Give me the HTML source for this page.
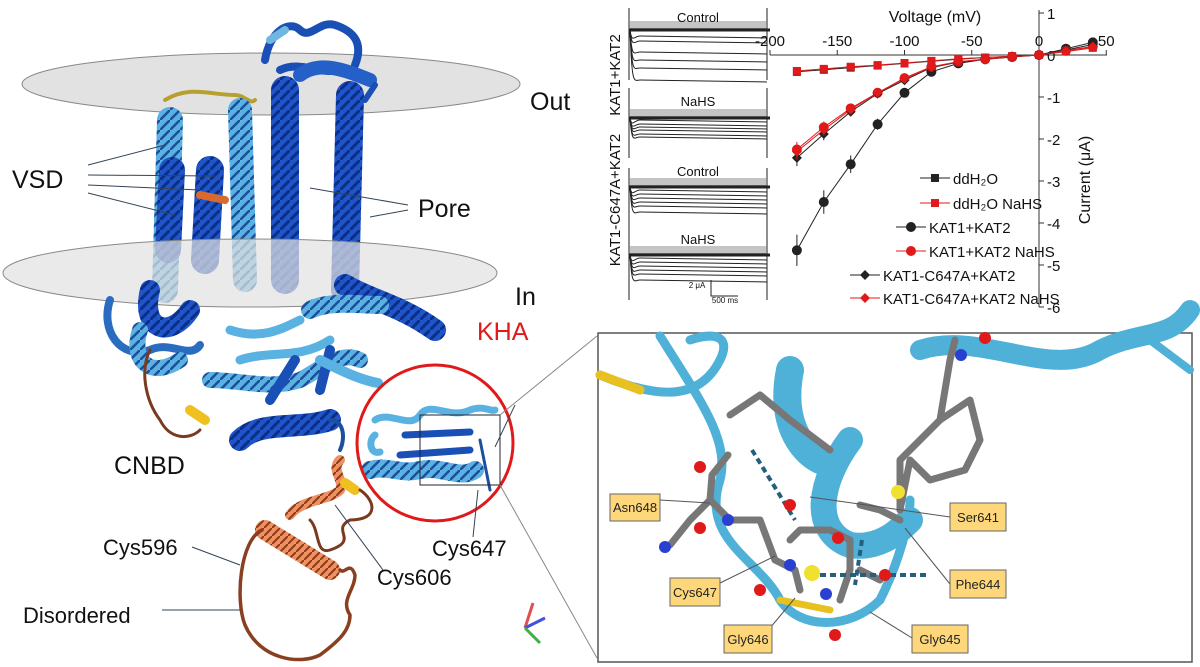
<!DOCTYPE html><html><head><style>body{margin:0;background:#fff}svg{display:block;font-family:"Liberation Sans",sans-serif}</style></head><body>
<svg id="s" width="1200" height="667" viewBox="0 0 1200 667">
<defs>
<pattern id="hx" width="10" height="10" patternUnits="userSpaceOnUse"><rect width="10" height="10" fill="#1f55c8"/><path d="M0 10 L10 0" stroke="#0b2f86" stroke-width="3"/></pattern>
<pattern id="hl" width="10" height="10" patternUnits="userSpaceOnUse"><rect width="10" height="10" fill="#5ab2e2"/><path d="M0 10 L10 0" stroke="#1d4f9a" stroke-width="2.5"/></pattern>
<pattern id="ho" width="8" height="8" patternUnits="userSpaceOnUse"><rect width="8" height="8" fill="#f09060"/><path d="M0 8 L8 0" stroke="#8a3a18" stroke-width="2"/></pattern>
</defs>
<!-- membrane top -->
<ellipse cx="271" cy="84" rx="249" ry="31" fill="#e2e2e2" stroke="#888"/>
<g fill="none" stroke-linecap="round" stroke-linejoin="round">
<!-- top loops -->
<path d="M265 60 C270 30 290 20 300 30 C310 40 320 20 335 25 C350 30 365 40 355 65 M280 70 C300 60 320 75 340 70" stroke="#1a4fb5" stroke-width="8"/>
<path d="M270 40 L285 30" stroke="#6fb6e0" stroke-width="8"/>
<path d="M165 100 C190 85 210 95 235 95 C245 95 250 105 255 100" stroke="#b8a030" stroke-width="4"/>
<!-- VSD helices -->
<path d="M170 120 L165 290" stroke="url(#hl)" stroke-width="26"/>
<path d="M172 170 L168 250" stroke="url(#hx)" stroke-width="26"/>
<path d="M240 110 L245 280" stroke="url(#hl)" stroke-width="24"/>
<path d="M210 170 L205 260" stroke="url(#hx)" stroke-width="28"/>
<path d="M200 195 L225 200" stroke="#d86a30" stroke-width="8"/>
<!-- pore helices -->
<path d="M285 90 L285 280" stroke="url(#hx)" stroke-width="28"/>
<path d="M350 95 L345 290" stroke="url(#hx)" stroke-width="28"/>
<path d="M300 75 C320 60 345 70 370 80" stroke="#2560c8" stroke-width="14"/>
<path d="M365 100 L375 85" stroke="#1a4fb5" stroke-width="6"/>
</g>
<ellipse cx="250" cy="273" rx="247" ry="34" fill="#e2e2e2" fill-opacity=".72" stroke="#888"/>
<g fill="none" stroke-linecap="round" stroke-linejoin="round">
<path d="M345 285 C370 300 400 305 435 330" stroke="url(#hx)" stroke-width="22"/>
<path d="M310 310 C330 300 360 305 380 305" stroke="url(#hl)" stroke-width="18"/>
<path d="M150 290 C140 330 170 340 190 310" stroke="url(#hx)" stroke-width="20"/>
<path d="M110 300 C100 330 120 360 150 350 C170 340 190 360 200 345" stroke="#2a6cc0" stroke-width="8"/>
<path d="M140 330 C130 360 150 380 180 360" stroke="url(#hl)" stroke-width="16"/>
<path d="M150 350 C140 370 145 400 160 420 C170 440 190 440 200 430" stroke="#7a3a20" stroke-width="3"/>
<path d="M190 410 L205 420" stroke="#f0c020" stroke-width="10"/>
<path d="M230 330 C260 340 280 330 300 320 M240 360 C270 350 300 360 330 340" stroke="#5ab2e2" stroke-width="9"/>
<path d="M210 380 C240 380 270 390 300 380 C320 370 340 350 360 360" stroke="url(#hl)" stroke-width="16"/>
<path d="M240 440 C260 420 300 430 330 420" stroke="url(#hx)" stroke-width="22"/>
<path d="M270 400 L295 360 M320 390 L330 350" stroke="#1a4fb5" stroke-width="10"/>
<path d="M320 360 C340 370 360 380 378 383" stroke="#5ab2e2" stroke-width="10"/>
<path d="M330 420 C345 420 345 440 340 450" stroke="#1d4f9a" stroke-width="4"/>
<!-- KHA domain -->
<path d="M375 420 C390 410 410 430 420 415 C430 400 450 420 470 410 C485 405 490 412 495 410" stroke="#5ab2e2" stroke-width="7"/>
<path d="M405 435 L470 432 M400 455 L470 450" stroke="#1a4fb5" stroke-width="7"/>
<path d="M370 470 C390 465 400 475 420 470 C440 465 460 480 475 470" stroke="url(#hl)" stroke-width="18"/>
<path d="M375 435 C368 440 370 455 380 452" stroke="#5ab2e2" stroke-width="7"/>
<path d="M480 440 L490 490" stroke="#1d4f9a" stroke-width="3"/>
<!-- orange -->
<path d="M340 460 C330 470 345 480 340 490 C330 500 300 500 290 515" stroke="url(#ho)" stroke-width="10"/>
<path d="M345 483 L355 490" stroke="#f0c020" stroke-width="10"/>
<path d="M360 490 C375 500 380 520 350 520 C330 530 360 540 330 550 C315 555 320 530 310 520" stroke="#7a3a20" stroke-width="3"/>
<path d="M265 530 L330 570" stroke="url(#ho)" stroke-width="20"/>
<path d="M262 530 C240 540 235 600 245 625 C260 660 300 665 320 655 C340 640 350 630 350 615 C340 600 355 590 355 575 C350 560 345 575 340 570" stroke="#8a4020" stroke-width="3.5"/>
</g>
<circle cx="435" cy="443" r="78" fill="none" stroke="#e01a1a" stroke-width="3"/>
<rect x="420" y="415" width="80" height="70" fill="none" stroke="#223" stroke-width="1"/>
<line x1="500" y1="415" x2="597" y2="336" stroke="#888"/><line x1="500" y1="485" x2="597" y2="658" stroke="#888"/>
<g stroke="#345" stroke-width="1" fill="none">
<path d="M88 165 L165 145 M88 175 L215 176 M88 185 L200 190 M88 193 L175 215"/>
<path d="M408 205 L310 188 M408 210 L370 217"/>
<path d="M192 547 L240 565"/><path d="M162 610 L240 610"/>
<path d="M383 570 L335 505"/><path d="M473 537 L478 490 M495 447 L515 405"/>
</g>
<g font-size="25" fill="#111">
<text x="530" y="110">Out</text><text x="515" y="305">In</text><text x="12" y="188">VSD</text><text x="418" y="217">Pore</text>
<text x="114" y="474">CNBD</text><text x="477" y="340" fill="#e01a1a">KHA</text>
</g>
<g font-size="22" fill="#111">
<text x="103" y="555">Cys596</text><text x="377" y="585">Cys606</text><text x="432" y="556">Cys647</text><text x="23" y="623">Disordered</text>
</g>
<g stroke-width="3"><line x1="525" y1="628" x2="533" y2="603" stroke="#e05050"/><line x1="525" y1="628" x2="545" y2="618" stroke="#4050e0"/><line x1="525" y1="628" x2="540" y2="643" stroke="#40b040"/></g>
<!-- traces -->
<g id="tr" stroke="#222" fill="none" stroke-width="1"></g>
<g font-size="13" fill="#111" text-anchor="middle">
<text x="698" y="22">Control</text><text x="698" y="106">NaHS</text><text x="698" y="176">Control</text><text x="698" y="244">NaHS</text>
<text transform="translate(620,75) rotate(-90)" font-size="15" text-anchor="middle">KAT1+KAT2</text>
<text transform="translate(620,200) rotate(-90)" font-size="15" text-anchor="middle">KAT1-C647A+KAT2</text>
<text x="697" y="288" font-size="8">2 μA</text><text x="725" y="303" font-size="8">500 ms</text>
</g>
<path d="M711 280 L711 296 L738 296" stroke="#222" fill="none"/>
<g id="iv"></g>
<!-- inset -->
<rect x="598" y="333" width="594" height="329" fill="#fff" stroke="#555" stroke-width="1.5"/>
<g fill="none" stroke-linecap="round">
<path d="M600 375 C660 400 700 400 720 360 C730 340 720 330 690 340 M660 336 C700 400 730 440 720 480 C700 540 760 560 780 600 C800 630 850 630 880 600 C900 560 910 520 910 500" stroke="#4fb0d8" stroke-width="9"/>
<path d="M600 375 L640 390" stroke="#e8c020" stroke-width="9"/>
<path d="M780 600 L830 610" stroke="#e8c020" stroke-width="7"/>
<path d="M790 370 C780 420 800 450 820 460" stroke="#4fb0d8" stroke-width="28"/>
<path d="M850 440 C820 480 810 530 850 545 C880 550 900 530 910 520" stroke="#4fb0d8" stroke-width="26"/>
<path d="M920 350 C980 330 1050 380 1100 350 M1100 350 C1140 330 1170 340 1190 310" stroke="#4fb0d8" stroke-width="20"/>
<path d="M1150 340 L1190 370" stroke="#4fb0d8" stroke-width="8"/>
</g>
<g stroke="#777" stroke-width="7" fill="none" stroke-linecap="round" stroke-linejoin="round">
<path d="M730 415 L760 395 L790 420 L830 450"/><path d="M728 455 L712 475 L710 500 L690 520 L670 545"/>
<path d="M710 500 L730 520 L760 520 L775 560 L795 570 L800 590"/><path d="M790 540 L800 530 L830 530 L850 540 L850 570 L840 600"/>
<path d="M900 510 L900 460 L940 420 L950 360 L955 340"/><path d="M940 420 L970 400 L980 440 L965 470 L930 480 L910 460 L900 510"/>
<path d="M900 520 L880 510 L860 505"/><path d="M860 570 L880 580"/>
</g>
<g stroke="#24607e" stroke-width="4" stroke-dasharray="6 4"><line x1="752" y1="450" x2="795" y2="520"/><line x1="820" y1="575" x2="930" y2="575"/><line x1="862" y1="540" x2="855" y2="585"/></g>
<g fill="#e01a1a"><circle cx="700" cy="467" r="6"/><circle cx="700" cy="528" r="6"/><circle cx="790" cy="505" r="6"/><circle cx="760" cy="590" r="6"/><circle cx="835" cy="635" r="6"/><circle cx="838" cy="538" r="6"/><circle cx="885" cy="575" r="6"/><circle cx="985" cy="338" r="6"/></g>
<g fill="#2a40d0"><circle cx="665" cy="547" r="6"/><circle cx="728" cy="520" r="6"/><circle cx="790" cy="565" r="6"/><circle cx="826" cy="594" r="6"/><circle cx="961" cy="355" r="6"/></g>
<g fill="#f0e030"><circle cx="812" cy="573" r="8"/><circle cx="898" cy="492" r="7"/></g>
<g stroke="#555" stroke-width="1"><line x1="660" y1="500" x2="710" y2="503"/><line x1="950" y1="517" x2="810" y2="497"/><line x1="950" y1="584" x2="905" y2="528"/><line x1="720" y1="583" x2="775" y2="556"/><line x1="770" y1="628" x2="795" y2="598"/><line x1="912" y1="638" x2="870" y2="612"/></g>
<g font-size="13" fill="#222" text-anchor="middle">
<rect x="610" y="494" width="50" height="27" fill="#fdd77a" stroke="#666"/><text x="635" y="512">Asn648</text>
<rect x="950" y="503" width="56" height="28" fill="#fdd77a" stroke="#666"/><text x="978" y="522">Ser641</text>
<rect x="950" y="570" width="56" height="28" fill="#fdd77a" stroke="#666"/><text x="978" y="589">Phe644</text>
<rect x="670" y="578" width="50" height="28" fill="#fdd77a" stroke="#666"/><text x="695" y="597">Cys647</text>
<rect x="724" y="625" width="48" height="28" fill="#fdd77a" stroke="#666"/><text x="748" y="644">Gly646</text>
<rect x="912" y="625" width="56" height="28" fill="#fdd77a" stroke="#666"/><text x="940" y="644">Gly645</text>
</g>
</svg>
<script>
var ns="http://www.w3.org/2000/svg",iv=document.getElementById("iv"),tr=document.getElementById("tr");
function el(p,t,a,txt){var e=document.createElementNS(ns,t);for(var k in a)e.setAttribute(k,a[k]);if(txt)e.textContent=txt;p.appendChild(e);return e;}
[[8,80,30,[36,41,52,60,68,80]],[88,158,118,[120,124,127,130,134,137]],[168,238,187,[190,194,198,202,206,212]],[238,300,255,[258,262,266,270,274,280]]].forEach(function(p){
el(tr,"line",{x1:629,y1:p[0],x2:629,y2:p[1]});el(tr,"line",{x1:767,y1:p[0],x2:767,y2:p[1]});
el(tr,"line",{x1:629,y1:p[2],x2:770,y2:p[2],"stroke-width":3});
for(var i=0;i<4;i++)el(tr,"line",{x1:629,y1:p[2]-2-i*2,x2:767,y2:p[2]-2-i*2,stroke:"#888"});
p[3].forEach(function(y){el(tr,"path",{d:"M630 "+p[2]+" C632 "+(y+8)+" 634 "+y+" 640 "+y+" L767 "+(y+2)});});});
var X=function(v){return 1039+v*1.345},Y=function(c){return 55+(-c)*42};
el(iv,"line",{x1:770,y1:55,x2:1107,y2:55,stroke:"#333"});el(iv,"line",{x1:1039,y1:10,x2:1039,y2:307,stroke:"#333"});
[-200,-150,-100,-50,0,50].forEach(function(v){el(iv,"line",{x1:X(v),y1:55,x2:X(v),y2:50,stroke:"#333"});el(iv,"text",{x:X(v),y:46,"font-size":15,"text-anchor":"middle",fill:"#111"},String(v));});
[1,0,-1,-2,-3,-4,-5,-6].forEach(function(c){el(iv,"line",{x1:1039,y1:Y(c),x2:1044,y2:Y(c),stroke:"#333"});el(iv,"text",{x:1047,y:Y(c)+6,"font-size":15,fill:"#111"},String(c));});
el(iv,"text",{x:935,y:22,"font-size":16,"text-anchor":"middle",fill:"#111"},"Voltage (mV)");
el(iv,"text",{transform:"translate(1090,180) rotate(-90)","font-size":16,"text-anchor":"middle",fill:"#111"},"Current (μA)");
var V=[-180,-160,-140,-120,-100,-80,-60,-40,-20,0,20,40];
var S=[["#222","s",[-.4,-.35,-.3,-.25,-.2,-.15,-.1,-.06,-.03,0,.1,.2]],["#e01a1a","s",[-.38,-.33,-.28,-.24,-.19,-.14,-.09,-.06,-.03,0,.08,.17]],
["#222","c",[-4.65,-3.5,-2.6,-1.65,-.9,-.4,-.2,-.1,-.05,0,.15,.3]],["#e01a1a","c",[-2.25,-1.72,-1.27,-.9,-.55,-.28,-.16,-.1,-.04,0,.1,.2]],
["#222","d",[-2.45,-1.88,-1.35,-.92,-.6,-.3,-.17,-.1,-.04,0,.12,.25]],["#e01a1a","d",[-2.3,-1.78,-1.3,-.9,-.57,-.29,-.16,-.1,-.04,0,.1,.2]]];
function mk(c,t,x,y){if(t=="s")el(iv,"rect",{x:x-4,y:y-4,width:8,height:8,fill:c});else if(t=="c")el(iv,"circle",{cx:x,cy:y,r:5,fill:c});else el(iv,"path",{d:"M"+x+" "+(y-5)+"L"+(x+5)+" "+y+"L"+x+" "+(y+5)+"L"+(x-5)+" "+y+"Z",fill:c});}
S.forEach(function(s){var d="";s[2].forEach(function(c,i){d+=(i?"L":"M")+X(V[i])+" "+Y(c);var e=Math.abs(c)*0.08;if(e>.05){el(iv,"line",{x1:X(V[i]),y1:Y(c-e),x2:X(V[i]),y2:Y(c+e),stroke:s[0]});}});
el(iv,"path",{d:d,stroke:s[0],fill:"none","stroke-width":1});s[2].forEach(function(c,i){mk(s[0],s[1],X(V[i]),Y(c));});});
var L=[["ddH₂O",203,"s","#222",950],["ddH₂O NaHS",228,"s","#e01a1a",950],["KAT1+KAT2",252,"c","#222",926],["KAT1+KAT2 NaHS",276,"c","#e01a1a",926],["KAT1-C647A+KAT2",300,"d","#222",880],["KAT1-C647A+KAT2 NaHS",323,"d","#e01a1a",880]];
L.forEach(function(l){var y=l[1]-25;var x0=l[4]-30;el(iv,"line",{x1:x0,y1:y,x2:l[4],y2:y,stroke:l[3]});mk(l[3],l[2],x0+15,y);el(iv,"text",{x:l[4]+3,y:y+6,"font-size":15,fill:"#111"},l[0]);});
</script>
</body></html>
